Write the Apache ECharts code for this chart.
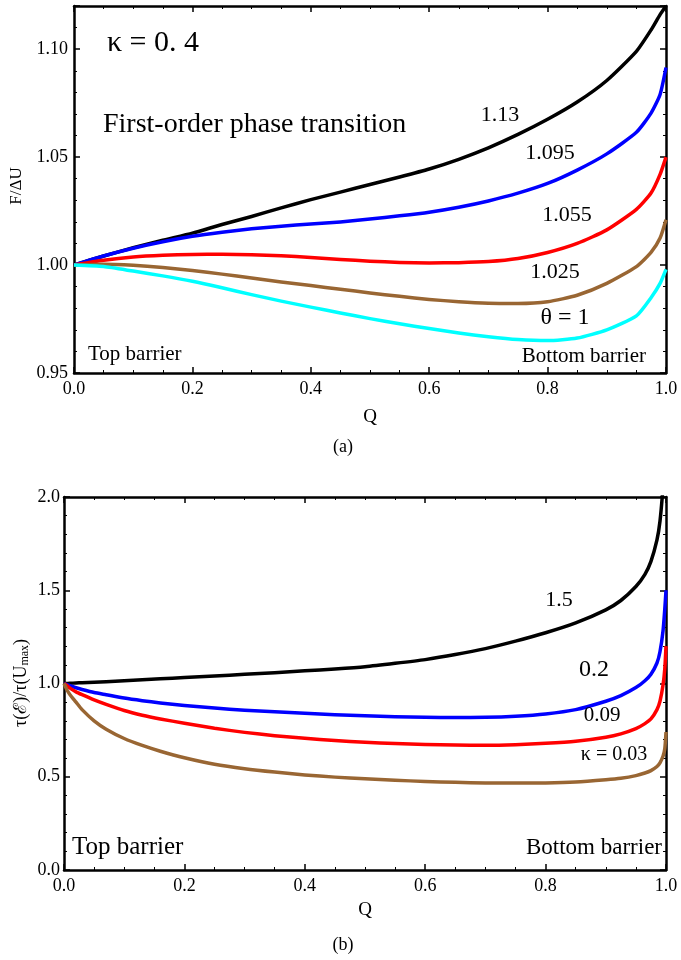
<!DOCTYPE html>
<html>
<head>
<meta charset="utf-8">
<script src="https://cdn.jsdelivr.net/npm/echarts@6/dist/echarts.min.js"></script>
<style>
  html, body { margin: 0; padding: 0; background: #fff; }
  #chart { width: 681px; height: 960px; }
</style>
</head>
<body>
<div id="chart"></div>
<script>
// panel (a): F/ΔU vs Q for several θ
const qTop = [0, 0.05, 0.1, 0.15, 0.2, 0.25, 0.3, 0.35, 0.4, 0.45, 0.5, 0.55, 0.6, 0.65, 0.7, 0.75, 0.8, 0.85, 0.9, 0.95, 0.975, 0.99, 1.0];
const theta113 = [1.0, 1.0042, 1.0080, 1.0115, 1.0148, 1.0188, 1.0225, 1.0265, 1.0303, 1.0338, 1.0373, 1.0408, 1.0445, 1.0490, 1.0543, 1.0605, 1.0675, 1.0755, 1.0855, 1.0990, 1.1090, 1.1160, 1.12];
const theta1095 = [1.0, 1.0042, 1.0078, 1.0108, 1.0133, 1.0152, 1.0168, 1.0180, 1.0190, 1.0200, 1.0213, 1.0228, 1.0245, 1.0268, 1.0297, 1.0333, 1.0378, 1.0440, 1.0515, 1.0615, 1.0705, 1.0790, 1.0915];
const theta1055 = [1.0, 1.0022, 1.0037, 1.0045, 1.0049, 1.0050, 1.0048, 1.0043, 1.0035, 1.0026, 1.0018, 1.0012, 1.0010, 1.0011, 1.0016, 1.0030, 1.0058, 1.0100, 1.0163, 1.0258, 1.0335, 1.0420, 1.05];
const theta1025 = [1.0, 1.0004, 0.9999, 0.9989, 0.9975, 0.9958, 0.9940, 0.9922, 0.9905, 0.9888, 0.9871, 0.9855, 0.9841, 0.9830, 0.9823, 0.9822, 0.9830, 0.9860, 0.9915, 0.9993, 1.0060, 1.0125, 1.021];
const theta1 = [1.0, 0.9993, 0.9972, 0.9950, 0.9925, 0.9895, 0.9863, 0.9833, 0.9805, 0.9778, 0.9752, 0.9728, 0.9706, 0.9685, 0.9668, 0.9655, 0.9650, 0.9662, 0.9700, 0.9765, 0.9850, 0.9915, 0.998];

// panel (b): τ(ℰ)/τ(Umax) vs Q for several κ
const qBot = [0, 0.005, 0.01, 0.02, 0.03, 0.05, 0.07, 0.1, 0.13, 0.16, 0.2, 0.25, 0.3, 0.35, 0.4, 0.45, 0.5, 0.55, 0.6, 0.65, 0.7, 0.75, 0.8, 0.85, 0.9, 0.925, 0.95, 0.965, 0.975, 0.985, 0.99, 0.995, 0.998, 1.0];
const kappa15 = [1.0, 1.0005, 1.001, 1.003, 1.004, 1.007, 1.01, 1.015, 1.02, 1.025, 1.032, 1.04, 1.049, 1.058, 1.068, 1.078, 1.09, 1.108, 1.128, 1.155, 1.187, 1.227, 1.272, 1.325, 1.395, 1.445, 1.52, 1.585, 1.655, 1.77, 1.87, 2.05, 2.2, 2.3];
const kappa02 = [1.0, 0.994, 0.988, 0.977, 0.968, 0.952, 0.94, 0.922, 0.908, 0.896, 0.882, 0.868, 0.857, 0.848, 0.84, 0.833, 0.827, 0.822, 0.819, 0.818, 0.819, 0.825, 0.837, 0.86, 0.905, 0.935, 0.978, 1.015, 1.05, 1.11, 1.17, 1.28, 1.4, 1.5];
const kappa009 = [1.0, 0.988, 0.975, 0.955, 0.94, 0.912, 0.888, 0.855, 0.83, 0.81, 0.787, 0.76, 0.738, 0.72, 0.706, 0.694, 0.685, 0.678, 0.673, 0.67, 0.669, 0.672, 0.679, 0.69, 0.712, 0.73, 0.758, 0.785, 0.81, 0.86, 0.905, 0.99, 1.08, 1.2];
const kappa003 = [1.0, 0.965, 0.94, 0.9, 0.86, 0.8, 0.755, 0.705, 0.668, 0.637, 0.602, 0.567, 0.543, 0.525, 0.51, 0.498, 0.489, 0.481, 0.475, 0.47, 0.467, 0.466, 0.467, 0.472, 0.484, 0.492, 0.506, 0.52, 0.533, 0.555, 0.575, 0.61, 0.65, 0.74];

const serif = '"Liberation Serif", "DejaVu Serif", serif';
const pairs = (xs, ys) => xs.map((x, i) => [x, ys[i]]);

const chart = echarts.init(document.getElementById('chart'), null, { renderer: 'canvas' });

function xAx(grid, pos) {
  return {
    type: 'value', gridIndex: grid, position: pos, min: 0, max: 1, interval: 0.2,
    axisLine: { show: true, onZero: false, lineStyle: { color: '#000', width: 2.5 } },
    axisTick: { show: true, inside: true, length: 6, lineStyle: { color: '#000', width: 1.5 } },
    minorTick: { show: true, splitNumber: 4, length: 3, lineStyle: { color: '#000', width: 1 } },
    splitLine: { show: false },
    axisLabel: {
      show: pos === 'bottom', margin: 7, color: '#000', fontFamily: serif, fontSize: 18,
      formatter: v => v.toFixed(1),
    },
  };
}

function yAx(grid, pos, min, max, interval, minorSplit, digits, margin) {
  return {
    type: 'value', gridIndex: grid, position: pos, min, max, interval,
    axisLine: { show: true, onZero: false, lineStyle: { color: '#000', width: 2.5 } },
    axisTick: { show: true, inside: true, length: 6, lineStyle: { color: '#000', width: 1.5 } },
    minorTick: { show: true, splitNumber: minorSplit, length: 3, lineStyle: { color: '#000', width: 1 } },
    splitLine: { show: false },
    axisLabel: {
      show: pos === 'left', margin, color: '#000', fontFamily: serif, fontSize: 18,
      showMaxLabel: digits === 1, formatter: v => v.toFixed(digits),
    },
  };
}

function curve(name, xi, yi, xs, ys, color) {
  return {
    name, type: 'line', xAxisIndex: xi, yAxisIndex: yi, data: pairs(xs, ys),
    showSymbol: false, smooth: 0.2, clip: true,
    lineStyle: { color, width: 3.5, join: 'round' }, z: 3,
  };
}

function txt(x, y, text, size, align, extra) {
  return Object.assign({
    type: 'text', x, y, z: 10,
    style: { text, fill: '#000', font: `${size}px ${serif}`, align: align || 'center', verticalAlign: 'middle' },
  }, extra || {});
}

chart.setOption({
  animation: false,
  backgroundColor: '#fff',
  grid: [
    { left: 74, right: 15, top: 6, height: 367 },
    { left: 64, right: 15, top: 497, height: 373 },
  ],
  xAxis: [xAx(0, 'bottom'), xAx(0, 'top'), xAx(1, 'bottom'), xAx(1, 'top')],
  yAxis: [
    yAx(0, 'left', 0.95, 1.12, 0.05, 5, 2, 6),
    yAx(0, 'right', 0.95, 1.12, 0.05, 5, 2, 6),
    yAx(1, 'left', 0, 2, 0.5, 5, 1, 4),
    yAx(1, 'right', 0, 2, 0.5, 5, 1, 4),
  ],
  series: [
    curve('1.13', 0, 0, qTop, theta113, '#000000'),
    curve('1.095', 0, 0, qTop, theta1095, '#0000ff'),
    curve('1.055', 0, 0, qTop, theta1055, '#ff0000'),
    curve('1.025', 0, 0, qTop, theta1025, '#996633'),
    curve('θ = 1', 0, 0, qTop, theta1, '#00ffff'),
    curve('1.5', 2, 2, qBot, kappa15, '#000000'),
    curve('0.2', 2, 2, qBot, kappa02, '#0000ff'),
    curve('0.09', 2, 2, qBot, kappa009, '#ff0000'),
    curve('κ = 0.03', 2, 2, qBot, kappa003, '#996633'),
  ],
  graphic: [
    // panel (a)
    txt(107, 43, 'κ = 0. 4', 30, 'left'),
    txt(103, 125, 'First-order phase transition', 28, 'left'),
    txt(500, 115, '1.13', 22),
    txt(550, 153, '1.095', 22),
    txt(567, 215, '1.055', 22),
    txt(555, 272, '1.025', 22),
    txt(565, 318, 'θ = 1', 24),
    txt(88, 354, 'Top barrier', 21, 'left'),
    txt(646, 356, 'Bottom barrier', 21, 'right'),
    txt(370, 417, 'Q', 19),
    txt(17, 186, 'F/ΔU', 17, 'center', { rotation: Math.PI / 2 }),
    txt(343, 447, '(a)', 18),
    // panel (b)
    txt(559, 600, '1.5', 22),
    txt(594, 670, '0.2', 24),
    txt(602, 715, '0.09', 21),
    txt(614, 755, 'κ = 0.03', 20),
    txt(72, 847, 'Top barrier', 25, 'left'),
    txt(662, 848, 'Bottom barrier', 23, 'right'),
    txt(365, 910, 'Q', 19),
    {
      type: 'text', x: 21, y: 683, rotation: Math.PI / 2, z: 10,
      style: {
        text: '{a|τ(ℰ)/τ(U}{s|max}{a|)}', align: 'center', verticalAlign: 'middle',
        rich: {
          a: { fontFamily: serif, fontSize: 18, fill: '#000', color: '#000' },
          s: { fontFamily: serif, fontSize: 12, fill: '#000', color: '#000', padding: [8, 0, 0, 0] },
        },
      },
    },
    txt(343, 945, '(b)', 18),
  ],
});
</script>
</body>
</html>
